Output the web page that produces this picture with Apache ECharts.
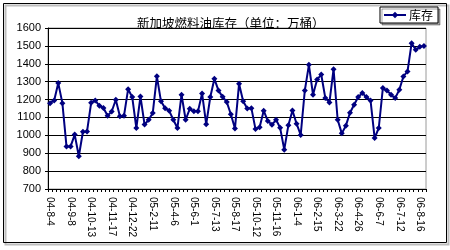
<!DOCTYPE html>
<html>
<head>
<meta charset="utf-8">
<script src="https://cdn.jsdelivr.net/npm/echarts@6/dist/echarts.min.js"></script>
<style>
html,body{margin:0;padding:0;background:#fff;}
#c{width:450px;height:250px;}
</style>
</head>
<body>
<div id="c"></div>
<script>
var titleText = '新加坡燃料油库存（单位：万桶）';
var seriesName = '库存';
var tickLabels = ['04-8-4','04-9-8','04-10-13','04-11-17','04-12-22','05-2-11','05-4-6','05-6-1','05-7-13','05-8-17','05-10-12','05-11-16','06-1-4','06-2-15','06-3-22','06-4-26','06-6-7','06-7-12','06-8-16'];
var stock = [1180,1195,1292,1180,938,938,1004,883,1020,1022,
             1182,1195,1165,1153,1110,1133,1199,1107,1110,1258,
             1214,1041,1217,1060,1087,1125,1330,1190,1152,1137,
             1087,1041,1227,1087,1148,1134,1134,1234,1062,1214,
             1316,1250,1215,1187,1118,1038,1288,1190,1150,1152,
             1035,1045,1138,1080,1059,1087,1042,920,1056,1139,
             1065,1002,1250,1394,1227,1312,1340,1208,1184,1370,
             1087,1011,1054,1126,1171,1214,1236,1214,1195,985,
             1041,1264,1251,1227,1208,1255,1329,1357,1515,1478,
             1495,1500];
var yMin = 700, yMax = 1600, yStep = 100;

var categories = stock.map(function(v, i){
  var base = tickLabels[Math.floor(i / 5)];
  return i % 5 === 0 ? base : base + '+' + (i % 5);
});

var chart = echarts.init(document.getElementById('c'), null, {renderer:'canvas'});
chart.setOption({
  animation: false,
  backgroundColor: '#fff',
  title: {
    text: titleText,
    left: 132, top: 12,
    textStyle: {fontFamily: '"Noto Sans CJK SC"', fontSize: 12.5, fontWeight: 'normal', color: '#000'}
  },
  legend: {
    data: [seriesName],
    right: 12, top: 7,
    padding: [2, 5, 2, 3],
    itemWidth: 22, itemHeight: 8,
    borderColor: '#000', borderWidth: 1,
    backgroundColor: '#fff',
    shadowColor: 'rgba(0,0,0,0.35)', shadowOffsetX: 2, shadowOffsetY: 2,
    textStyle: {fontFamily: '"Noto Sans CJK SC"', fontSize: 12, color: '#000', padding: [0,0,0,-2]}
  },
  grid: {
    left: 48, right: 24, top: 28, bottom: 61,
    show: true, borderColor: '#9a9a9a', borderWidth: 1, backgroundColor: '#fff'
  },
  xAxis: {
    type: 'category',
    data: categories,
    boundaryGap: true,
    axisLine: {lineStyle: {color: '#000', width: 1}},
    axisTick: {show: true, interval: 0, length: 3, lineStyle: {color: '#000'}},
    axisLabel: {
      interval: 4, rotate: -90, margin: 8,
      fontFamily: '"Liberation Sans", Arial', fontSize: 10, color: '#000',
      formatter: function(v){ return v.split('+')[0]; }
    },
    splitLine: {show: false}
  },
  yAxis: {
    type: 'value',
    min: yMin, max: yMax, interval: yStep,
    axisLine: {show: true, lineStyle: {color: '#000', width: 1}},
    axisTick: {show: true, length: 3, lineStyle: {color: '#000'}},
    axisLabel: {margin: 7, fontFamily: '"Liberation Sans", Arial', fontSize: 11, color: '#000',
      formatter: function(v){ return String(v); }},
    splitLine: {show: true, lineStyle: {color: '#000', width: 1}}
  },
  series: [{
    name: seriesName,
    type: 'line',
    data: stock,
    symbol: 'diamond',
    symbolSize: 6,
    showAllSymbol: true,
    lineStyle: {color: '#000080', width: 2},
    itemStyle: {color: '#000080'}
  }],
  graphic: [
    {type: 'rect', shape: {x: 5.5, y: 5.5, width: 443, height: 239}, style: {fill: 'none', stroke: '#bdbdbd', lineWidth: 2}, z: -1},
    {type: 'rect', shape: {x: 3.5, y: 3.5, width: 443, height: 239}, style: {fill: 'none', stroke: '#000', lineWidth: 1}, z: 100}
  ]
});
</script>
</body>
</html>
